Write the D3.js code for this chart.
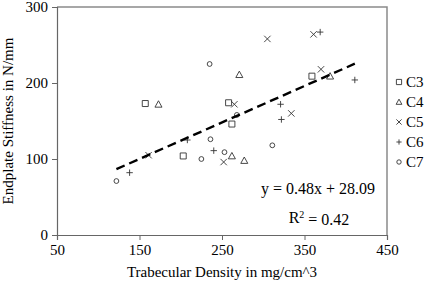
<!DOCTYPE html>
<html>
<head>
<meta charset="utf-8">
<script src="https://cdn.jsdelivr.net/npm/d3@7"></script>
<style>
  body { margin: 0; background: #fff; }
  text { font-family: "Liberation Serif", "Times New Roman", serif; fill: #000; }
</style>
</head>
<body>
<div id="drawing"></div>
<script>
// data
var seriesNames = ["C3", "C4", "C5", "C6", "C7"];
var c3Density   = [157, 258, 262, 359, 203];
var c3Stiffness = [173, 174, 146, 209, 104];
var c4Density   = [173, 271, 381, 262, 277];
var c4Stiffness = [172, 211, 209, 104, 98];
var c5Density   = [305, 265, 334, 361, 370, 161, 252];
var c5Stiffness = [258, 172, 160, 264, 218, 105, 96];
var c6Density   = [321, 322, 369, 411, 138, 208, 240];
var c6Stiffness = [172, 152, 267, 204, 82, 125, 111];
var c7Density   = [235, 268, 122, 236, 225, 253, 311];
var c7Stiffness = [225, 158, 71, 126, 100, 109, 118];
var xTicks = [50, 150, 250, 350, 450];
var yTicks = [0, 100, 200, 300];
var slope = 0.48, intercept = 28.09, rSquared = 0.42;

var width = 430;
var height = 284;
var margin = {top: 7, right: 43, bottom: 49, left: 57};
var plotW = width - margin.left - margin.right;
var plotH = height - margin.top - margin.bottom;

var allX = [c3Density, c4Density, c5Density, c6Density, c7Density];
var allY = [c3Stiffness, c4Stiffness, c5Stiffness, c6Stiffness, c7Stiffness];

var xScale = d3.scaleLinear().domain([50, 450]).range([0, plotW]);
var yScale = d3.scaleLinear().domain([0, 300]).range([plotH, 0]);

// marker shapes, s = half size
function markerPath(name, s) {
  if (name == "C3") return `M${-s},${-s}h${2*s}v${2*s}h${-2*s}Z`;
  if (name == "C4") return `M0,${-s*1.1}L${s*1.1},${s*0.9}L${-s*1.1},${s*0.9}Z`;
  if (name == "C5") return `M${-s},${-s}L${s},${s}M${-s},${s}L${s},${-s}`;
  if (name == "C6") return `M${-s},0H${s}M0,${-s}V${s}`;
  return "";
}

var svg = d3.select("#drawing").append("svg")
  .attr("width", width)
  .attr("height", height);

var g = svg.append("g")
  .attr("transform", `translate(${margin.left}, ${margin.top})`);

// frame top and right
g.append("path")
  .attr("d", `M0,0H${plotW}V${plotH}`)
  .style("fill", "none")
  .style("stroke", "#8a8a8a")
  .style("stroke-width", 1.5);

// axes
var xAxis = g.append("g")
  .attr("transform", `translate(0, ${plotH})`)
  .call(d3.axisBottom(xScale).tickValues(xTicks).tickSize(5).tickPadding(4));
var yAxis = g.append("g")
  .call(d3.axisLeft(yScale).tickValues(yTicks).tickSize(5).tickPadding(4));

[xAxis, yAxis].forEach(function(ax) {
  ax.select(".domain").style("stroke", "#666").style("stroke-width", 1.2);
  ax.selectAll(".tick line").style("stroke", "#666");
  ax.selectAll(".tick text")
    .style("font-family", "Liberation Serif, serif")
    .style("font-size", "15px")
    .style("fill", "#000");
});

// points
seriesNames.forEach(function(name, i) {
  var pts = allX[i].map((x, j) => ({x: x, y: allY[i][j]}));
  var sel = g.selectAll(".pt" + name).data(pts).enter();
  if (name == "C7") {
    sel.append("circle")
      .attr("cx", d => xScale(d.x))
      .attr("cy", d => yScale(d.y))
      .attr("r", 2.4)
      .style("fill", "none")
      .style("stroke", "#333")
      .style("stroke-width", 0.9);
  } else {
    sel.append("path")
      .attr("transform", d => `translate(${xScale(d.x)}, ${yScale(d.y)})`)
      .attr("d", markerPath(name, name == "C3" ? 3 : 3.2))
      .style("fill", "none")
      .style("stroke", "#333")
      .style("stroke-width", 0.9);
  }
});

// trend line over the data range
var xExtent = d3.extent(d3.merge(allX));
var lineGenerator = d3.line()
  .x(d => xScale(d))
  .y(d => yScale(slope * d + intercept));
g.append("path")
  .attr("d", lineGenerator(xExtent))
  .style("fill", "none")
  .style("stroke", "#000")
  .style("stroke-width", 2.4)
  .style("stroke-dasharray", "9,5");

// equation
g.append("text")
  .attr("x", 261)
  .attr("y", 188 - margin.top)
  .attr("dy", "0.35em")
  .attr("text-anchor", "middle")
  .style("font-size", "16px")
  .text(`y = ${slope}x + ${intercept}`);
var r2 = g.append("text")
  .attr("x", 262)
  .attr("y", 217 - margin.top)
  .attr("dy", "0.35em")
  .attr("text-anchor", "middle")
  .style("font-size", "16px");
r2.append("tspan").text("R");
r2.append("tspan").attr("dy", "-0.45em").style("font-size", "10px").text("2");
r2.append("tspan").attr("dy", "0.45em").text(` = ${rSquared}`);

// legend
var legend = svg.append("g").attr("transform", "translate(399, 82)");
seriesNames.forEach(function(name, i) {
  var row = legend.append("g").attr("transform", `translate(0, ${i * 20})`);
  if (name == "C7") {
    row.append("circle").attr("r", 2.2)
      .style("fill", "none").style("stroke", "#333").style("stroke-width", 0.9);
  } else {
    row.append("path").attr("d", markerPath(name, 2.6))
      .style("fill", "none").style("stroke", "#333").style("stroke-width", 0.9);
  }
  row.append("text")
    .attr("x", 7)
    .attr("dy", "0.35em")
    .style("font-size", "15px")
    .text(name);
});

// axis titles
svg.append("text")
  .attr("x", margin.left + plotW / 2)
  .attr("y", 277)
  .attr("text-anchor", "middle")
  .style("font-size", "15px")
  .text("Trabecular Density in mg/cm^3");
svg.append("text")
  .attr("transform", `translate(13, ${margin.top + plotH / 2}) rotate(-90)`)
  .attr("text-anchor", "middle")
  .style("font-size", "15px")
  .text("Endplate Stiffness in N/mm");
</script>
</body>
</html>
